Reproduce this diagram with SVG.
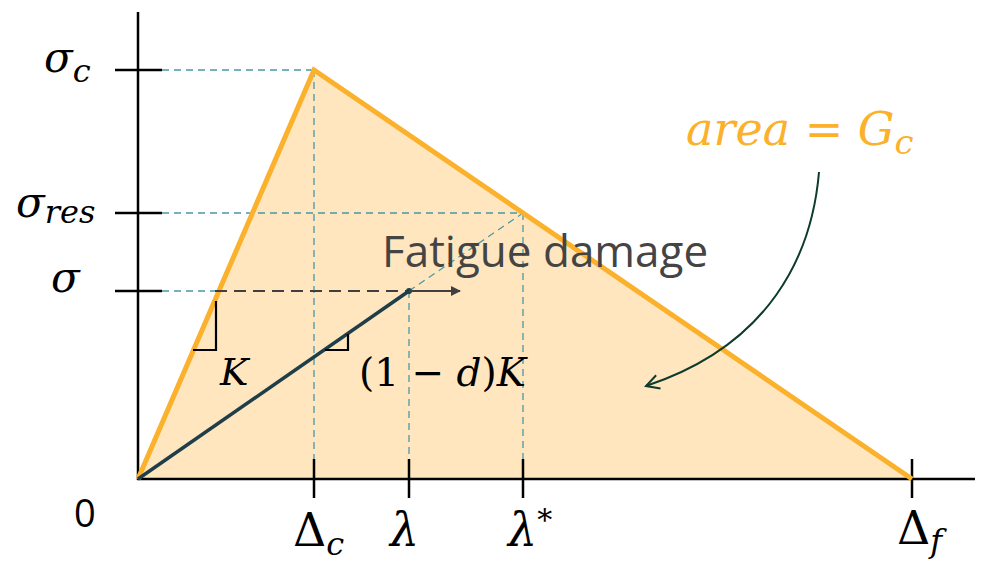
<svg xmlns="http://www.w3.org/2000/svg" width="989" height="562" viewBox="0 0 989 562">
<style>
.ax{stroke:#000;stroke-width:2.5;fill:none}
.tick{stroke:#000;stroke-width:2.5}
.dt{stroke:#4A98A8;stroke-width:1.3;stroke-dasharray:7 5;fill:none}
.math{font-family:"DejaVu Serif","Liberation Serif",serif;font-style:italic;fill:#000}
.up{font-family:"DejaVu Serif","Liberation Serif",serif;fill:#000}
.sans{font-family:"Open Sans","Liberation Sans",sans-serif}
</style>
<defs>
<marker id="ah" markerWidth="10" markerHeight="10" refX="9" refY="5" orient="auto" markerUnits="userSpaceOnUse">
<path d="M0,0 L10,5 L0,10 Z" fill="#404040"/>
</marker>
<marker id="oh" markerWidth="20" markerHeight="20" refX="17" refY="10" orient="auto" markerUnits="userSpaceOnUse">
<path d="M4,3 L17,10 L4,17" fill="none" stroke="#0E3B2A" stroke-width="2"/>
</marker>
</defs>
<g id="area">
<polygon points="138,479 314,70 912,479" fill="#FFE6BF" stroke="none"/>
</g>
<g id="guides">
<line class="dt" x1="162" y1="70" x2="314" y2="70"/>
<line class="dt" x1="314" y1="70" x2="314" y2="479"/>
<line class="dt" x1="162" y1="213" x2="523" y2="213"/>
<line class="dt" x1="523" y1="213" x2="523" y2="479"/>
<line class="dt" x1="409" y1="291" x2="523" y2="213"/>
<line class="dt" x1="162" y1="291" x2="215" y2="291"/>
<line class="dt" x1="409" y1="291" x2="409" y2="479"/>
</g>
<g id="axes">
<line class="ax" x1="138" y1="12" x2="138" y2="480"/>
<line class="ax" x1="137" y1="479" x2="975" y2="479"/>
<line class="tick" x1="115" y1="70" x2="162" y2="70"/>
<line class="tick" x1="115" y1="213" x2="162" y2="213"/>
<line class="tick" x1="115" y1="291" x2="162" y2="291"/>
<line class="tick" x1="314" y1="459" x2="314" y2="498"/>
<line class="tick" x1="409" y1="459" x2="409" y2="498"/>
<line class="tick" x1="523" y1="459" x2="523" y2="498"/>
<line class="tick" x1="912" y1="459" x2="912" y2="498"/>
</g>
<g id="envelope">
<polyline points="138,479 314,70 912,479" fill="none" stroke="#FBB12B" stroke-width="5" stroke-linejoin="miter"/>
</g>
<g id="damaged">
<line x1="215" y1="291" x2="409" y2="291" stroke="#404040" stroke-width="2" stroke-dasharray="12 7"/>
<line x1="138" y1="479" x2="409" y2="291" stroke="#1E3F4A" stroke-width="3.5"/>
<circle cx="409" cy="291" r="3" fill="#1E3F4A"/>
</g>
<g id="connectors">
<line x1="409" y1="291" x2="460" y2="291" stroke="#404040" stroke-width="2" marker-end="url(#ah)"/>
<path d="M819,172 C812,255 770,345 646,386" fill="none" stroke="#0E3B2A" stroke-width="2" marker-end="url(#oh)"/>
</g>
<g id="slopes">
<polyline points="193,350 216,350 216,301" fill="none" stroke="#000" stroke-width="2.2"/>
<polyline points="325,350 348,350 348,334" fill="none" stroke="#000" stroke-width="2.2"/>
</g>
<g id="labels">
<text class="math" x="44" y="72" font-size="42">σ<tspan font-size="32" dy="10">c</tspan></text>
<text class="math" x="16" y="217" font-size="42">σ<tspan font-size="32" dy="6">res</tspan></text>
<text class="math" x="51" y="292" font-size="42">σ</text>
<text class="sans" x="74" y="527" font-size="38" fill="#000">0</text>
<text class="up" x="293" y="546" font-size="46">Δ<tspan class="math" font-size="32" dy="9">c</tspan></text>
<text class="math" x="390" y="546" font-size="46">λ</text>
<text class="math" x="508" y="546" font-size="46">λ<tspan font-style="normal" font-size="30" dy="-16">*</tspan></text>
<text class="up" x="897" y="544" font-size="46">Δ<tspan class="math" font-size="32" dy="8">f</tspan></text>
<text class="math" x="220" y="385" font-size="38">K</text>
<text class="up" x="359" y="386" font-size="39">(1 − <tspan font-style="italic">d</tspan>)<tspan font-style="italic">K</tspan></text>
<text class="sans" x="382" y="267" font-size="44" fill="#444">Fatigue damage</text>
<text class="math" x="686" y="145" font-size="46" style="fill:#FBB12B">area = G<tspan font-size="34" dy="9">c</tspan></text>
</g>
</svg>
